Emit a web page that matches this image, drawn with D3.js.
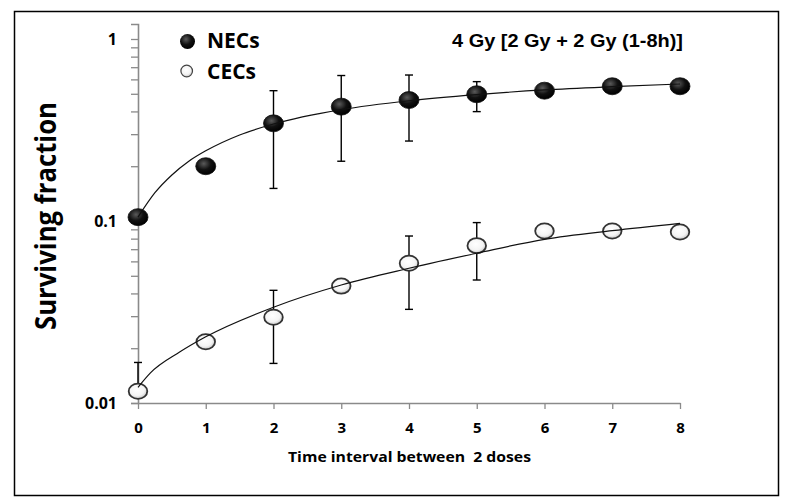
<!DOCTYPE html>
<html>
<head>
<meta charset="utf-8">
<script src="https://cdn.jsdelivr.net/npm/d3@7/dist/d3.min.js"></script>
<style>
  html, body { margin: 0; padding: 0; background: #fff; }
  svg { display: block; }
</style>
</head>
<body>
<svg id="chart" width="789" height="503"></svg>
<script>
// ---------- data ----------
const timePoints = [0, 1, 2, 3, 4, 5, 6, 7, 8];
const necMean  = [0.105, 0.200, 0.344, 0.425, 0.462, 0.497, 0.520, 0.550, 0.550];
const necErrHi = [null, null, 0.520, 0.630, 0.634, 0.583, null, null, null];
const necErrLo = [null, null, 0.151, 0.213, 0.275, 0.399, null, null, null];
const cecMean  = [0.0116, 0.0217, 0.0296, 0.0439, 0.0586, 0.0732, 0.0881, 0.0881, 0.0870];
const cecErrHi = [0.0167, null, 0.0416, null, 0.0827, 0.0980, null, null, null];
const cecErrLo = [0.0116, null, 0.0165, null, 0.0327, 0.0474, null, null, null];

const necFitT = [0, 0.25, 0.5, 0.75, 1, 1.5, 2, 3, 4, 5, 6, 7, 8];
const necFitV = [0.105, 0.143, 0.179, 0.213, 0.243, 0.297, 0.341, 0.409, 0.458, 0.495, 0.525, 0.547, 0.566];
const cecFitT = [0, 0.18, 0.62, 1, 2, 3, 4, 5, 6, 7, 8];
const cecFitV = [0.0122, 0.0146, 0.0191, 0.0231, 0.0336, 0.0445, 0.0550, 0.0665, 0.0793, 0.0885, 0.0971];

const seriesNames = ["NECs", "CECs"];
const xTickValues = [0, 1, 2, 3, 4, 5, 6, 7, 8];
const yMajorTicks = [0.01, 0.1, 1];
const yTickLabels = ["0.01", "0.1", "1"];
const yMinorTicks = [0.02,0.03,0.04,0.05,0.06,0.07,0.08,0.09,0.2,0.3,0.4,0.5,0.6,0.7,0.8,0.9];
const titleText = "4 Gy [2 Gy + 2 Gy (1-8h)]";
const xAxisTitle = "Time interval between  2 doses";
const yAxisTitle = "Surviving fraction";

// ---------- layout ----------
const svg = d3.select("#chart");
const x = d3.scaleLinear().domain([0, 8]).range([138, 680]);
const yTop = Math.pow(10, 15 / 182);
const y = d3.scaleLog().domain([0.01, yTop]).range([403, 24]);

const defs = svg.append("defs");
const gFill = defs.append("radialGradient").attr("id", "gFill")
  .attr("cx", "40%").attr("cy", "35%").attr("r", "65%");
gFill.append("stop").attr("offset", "0%").attr("stop-color", "#5a5a5a");
gFill.append("stop").attr("offset", "55%").attr("stop-color", "#111");
gFill.append("stop").attr("offset", "100%").attr("stop-color", "#000");
const gOpen = defs.append("radialGradient").attr("id", "gOpen")
  .attr("cx", "45%").attr("cy", "40%").attr("r", "65%");
gOpen.append("stop").attr("offset", "0%").attr("stop-color", "#ffffff");
gOpen.append("stop").attr("offset", "60%").attr("stop-color", "#f4f4f4");
gOpen.append("stop").attr("offset", "100%").attr("stop-color", "#bdbdbd");

// border
svg.append("rect").attr("x", 14.5).attr("y", 11.5).attr("width", 764).attr("height", 484)
  .attr("fill", "#fff").attr("stroke", "#000").attr("stroke-width", 1.5);

// ---------- axes ----------
const axisColor = "#8a8a8a";
const yAxis = d3.axisLeft(y)
  .tickValues(yMajorTicks.concat(yMinorTicks))
  .tickFormat(d => { const i = yMajorTicks.indexOf(d); return i >= 0 ? yTickLabels[i] : ""; })
  .tickSize(7).tickSizeOuter(7);
const gy = svg.append("g").attr("transform", `translate(${x(0)},0)`).call(yAxis);
gy.select(".domain").attr("stroke", axisColor).attr("stroke-width", 1.6);
gy.selectAll(".tick line").attr("stroke", axisColor).attr("stroke-width", 1.3);
gy.selectAll(".tick text").attr("x", -21).attr("dy", "0.36em")
  .attr("font-family", "'Open Sans', 'Noto Sans', sans-serif").attr("font-weight", "bold")
  .attr("font-size", 16).attr("fill", "#000");

const xAxis = d3.axisBottom(x).tickValues(xTickValues).tickFormat(d3.format("d"))
  .tickSize(6).tickSizeOuter(0);
const gx = svg.append("g").attr("transform", `translate(0,${y(0.01)})`).call(xAxis);
gx.select(".domain").attr("stroke", axisColor).attr("stroke-width", 1.6);
gx.selectAll(".tick line").attr("stroke", axisColor).attr("stroke-width", 1.3);
gx.selectAll(".tick text").attr("y", 30).attr("dy", "0")
  .attr("font-family", "'Open Sans', 'Noto Sans', sans-serif").attr("font-weight", "bold")
  .attr("font-size", 15).attr("fill", "#000");

// ---------- error bars ----------
function errorBars(mean, hi, lo) {
  const g = svg.append("g").attr("stroke", "#000").attr("stroke-width", 1.4).attr("fill", "none");
  timePoints.forEach((t, i) => {
    if (hi[i] == null) return;
    const cx = x(t), y1 = y(hi[i]), y2 = y(lo[i]);
    g.append("line").attr("x1", cx).attr("x2", cx).attr("y1", y1).attr("y2", y2);
    g.append("line").attr("x1", cx - 4).attr("x2", cx + 4).attr("y1", y1).attr("y2", y1);
    if (lo[i] < mean[i]) g.append("line").attr("x1", cx - 4).attr("x2", cx + 4).attr("y1", y2).attr("y2", y2);
  });
}
errorBars(necMean, necErrHi, necErrLo);
errorBars(cecMean, cecErrHi, cecErrLo);

// ---------- markers ----------
svg.append("g").selectAll("ellipse").data(timePoints).join("ellipse")
  .attr("cx", (d) => x(d)).attr("cy", (d, i) => y(necMean[i]))
  .attr("rx", 10).attr("ry", 8.5).attr("fill", "url(#gFill)").attr("stroke", "#111").attr("stroke-width", 0.8);
svg.append("g").selectAll("ellipse").data(timePoints).join("ellipse")
  .attr("cx", (d) => x(d)).attr("cy", (d, i) => y(cecMean[i]))
  .attr("rx", 9.3).attr("ry", 7.6).attr("fill", "url(#gOpen)").attr("stroke", "#333").attr("stroke-width", 1.8);

// ---------- fitted curves ----------
const line = d3.line().x(d => x(d[0])).y(d => y(d[1])).curve(d3.curveMonotoneX);
svg.append("path").datum(necFitT.map((t, i) => [t, necFitV[i]]))
  .attr("d", line).attr("fill", "none").attr("stroke", "#111").attr("stroke-width", 1.2);
svg.append("path").datum(cecFitT.map((t, i) => [t, cecFitV[i]]))
  .attr("d", line).attr("fill", "none").attr("stroke", "#111").attr("stroke-width", 1.2);

// ---------- legend ----------
const lg = svg.append("g");
lg.append("circle").attr("cx", 187.5).attr("cy", 41.5).attr("r", 7.5).attr("fill", "url(#gFill)");
lg.append("circle").attr("cx", 186.7).attr("cy", 71).attr("r", 5.8).attr("fill", "url(#gOpen)")
  .attr("stroke", "#444").attr("stroke-width", 1.2);
lg.selectAll("text").data(seriesNames).join("text")
  .attr("x", 207).attr("y", (d, i) => 48 + i * 30.5)
  .attr("font-family", "'Open Sans', 'Noto Sans', sans-serif").attr("font-weight", "bold")
  .attr("font-size", 21).attr("fill", "#000").text(d => d);

// ---------- titles ----------
svg.append("text").attr("x", 452).attr("y", 46.5)
  .attr("font-family", "'Liberation Sans', Arial, sans-serif").attr("font-weight", "bold")
  .attr("font-size", 17.5).attr("textLength", 231).attr("lengthAdjust", "spacingAndGlyphs")
  .attr("fill", "#000").text(titleText);

svg.append("text").attr("x", 288).attr("y", 462)
  .attr("font-family", "'Open Sans', 'Noto Sans', sans-serif").attr("font-weight", "bold")
  .attr("font-size", 15).attr("textLength", 243).attr("lengthAdjust", "spacingAndGlyphs")
  .style("white-space", "pre").attr("fill", "#000").text(xAxisTitle);

svg.append("text").attr("transform", "translate(56,216) rotate(-90)")
  .attr("text-anchor", "middle")
  .attr("font-family", "'Open Sans', 'Noto Sans', sans-serif").attr("font-weight", "bold")
  .attr("font-size", 29).attr("textLength", 228).attr("lengthAdjust", "spacingAndGlyphs")
  .attr("fill", "#000").text(yAxisTitle);
</script>
</body>
</html>
